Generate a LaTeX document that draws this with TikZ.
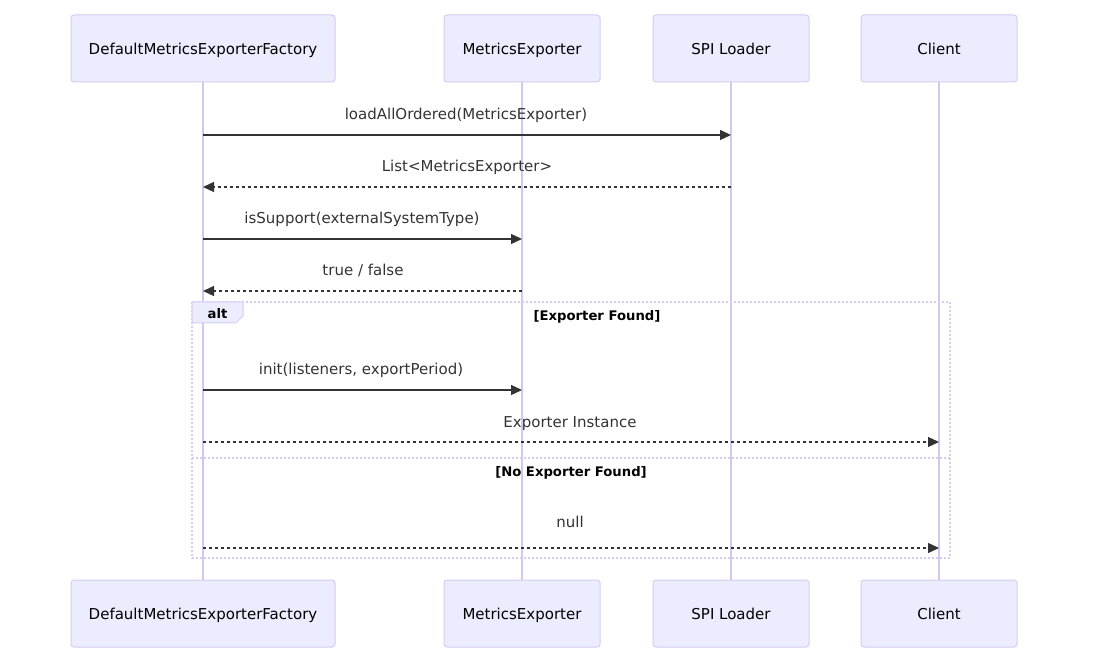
\documentclass[tikz,border=0pt]{standalone}
\usepackage{fontspec}
\setmainfont{DejaVu Sans}
\usetikzlibrary{arrows.meta}
\definecolor{actfill}{HTML}{ECECFF}
\definecolor{actline}{HTML}{D6CCF2}
\definecolor{lifecol}{HTML}{D2C7F0}
\definecolor{ink}{HTML}{333333}
\begin{document}
\begin{tikzpicture}[x=1pt,y=-1pt,
  actor/.style={draw=actline, fill=actfill, line width=1pt, rounded corners=3pt, minimum height=67pt, text=black, font=\fontsize{15}{17}\selectfont, inner sep=0pt, text height=13pt, text depth=1pt},
  life/.style={draw=lifecol, line width=1.5pt},
  msg/.style={draw=ink, line width=1.3pt, -{Triangle[length=11pt,width=10pt]}},
  reply/.style={msg, dash pattern=on 3pt off 3pt},
  lbl/.style={text=ink, font=\fontsize{15}{17}\selectfont, inner sep=0pt, text height=13pt, text depth=1pt},
  frame/.style={draw=actline, line width=1.6pt, dash pattern=on 1.6pt off 2.4pt},
  blbl/.style={text=black, font=\bfseries\fontsize{13.2}{16}\selectfont, inner sep=0pt, text height=12pt, text depth=1pt}]
\useasboundingbox (0,0) rectangle (1104,668);
% actors top
\node[actor, minimum width=264pt] (a1) at (203,48.5) {DefaultMetricsExporterFactory};
\node[actor, minimum width=156pt] (a2) at (522,48.5) {MetricsExporter};
\node[actor, minimum width=156pt] (a3) at (731,48.5) {SPI Loader};
\node[actor, minimum width=156pt] (a4) at (939,48.5) {Client};
% actors bottom
\node[actor, minimum width=264pt] (b1) at (203,613.5) {DefaultMetricsExporterFactory};
\node[actor, minimum width=156pt] (b2) at (522,613.5) {MetricsExporter};
\node[actor, minimum width=156pt] (b3) at (731,613.5) {SPI Loader};
\node[actor, minimum width=156pt] (b4) at (939,613.5) {Client};
% lifelines
\draw[life] (a1.south) -- (b1.north);
\draw[life] (a2.south) -- (b2.north);
\draw[life] (a3.south) -- (b3.north);
\draw[life] (a4.south) -- (b4.north);
% alt frame
\draw[frame] (192,302) rectangle (950,558);
\draw[frame] (192,458) -- (950,458);
\fill[actfill, draw=actline, line width=1pt] (192,302) -- (243,302) -- (243,316) -- (236,323) -- (192,323) -- cycle;
\node[blbl] (alt) at (217.5,313.5) {alt};
\node[blbl] (g1) at (597,315) {[Exporter Found]};
\node[blbl] (g2) at (571,471) {[No Exporter Found]};
% messages
\node[lbl] (m1) at (466,114) {loadAllOrdered(MetricsExporter)};
\draw[msg] (a1 |- 0,135) -- (a3 |- 0,135);
\node[lbl] (m2) at (467,166) {List<MetricsExporter>};
\draw[reply] (a3 |- 0,187) -- (a1 |- 0,187);
\node[lbl] (m3) at (362,218) {isSupport(externalSystemType)};
\draw[msg] (a1 |- 0,239) -- (a2 |- 0,239);
\node[lbl] (m4) at (363,270) {true / false};
\draw[reply] (a2 |- 0,291) -- (a1 |- 0,291);
\node[lbl] (m5) at (361,369) {init(listeners, exportPeriod)};
\draw[msg] (a1 |- 0,390) -- (a2 |- 0,390);
\node[lbl] (m6) at (570,422) {Exporter Instance};
\draw[reply] (a1 |- 0,442) -- (a4 |- 0,442);
\node[lbl] (m7) at (570,521) {null};
\draw[reply] (a1 |- 0,548) -- (a4 |- 0,548);
\end{tikzpicture}
\end{document}
